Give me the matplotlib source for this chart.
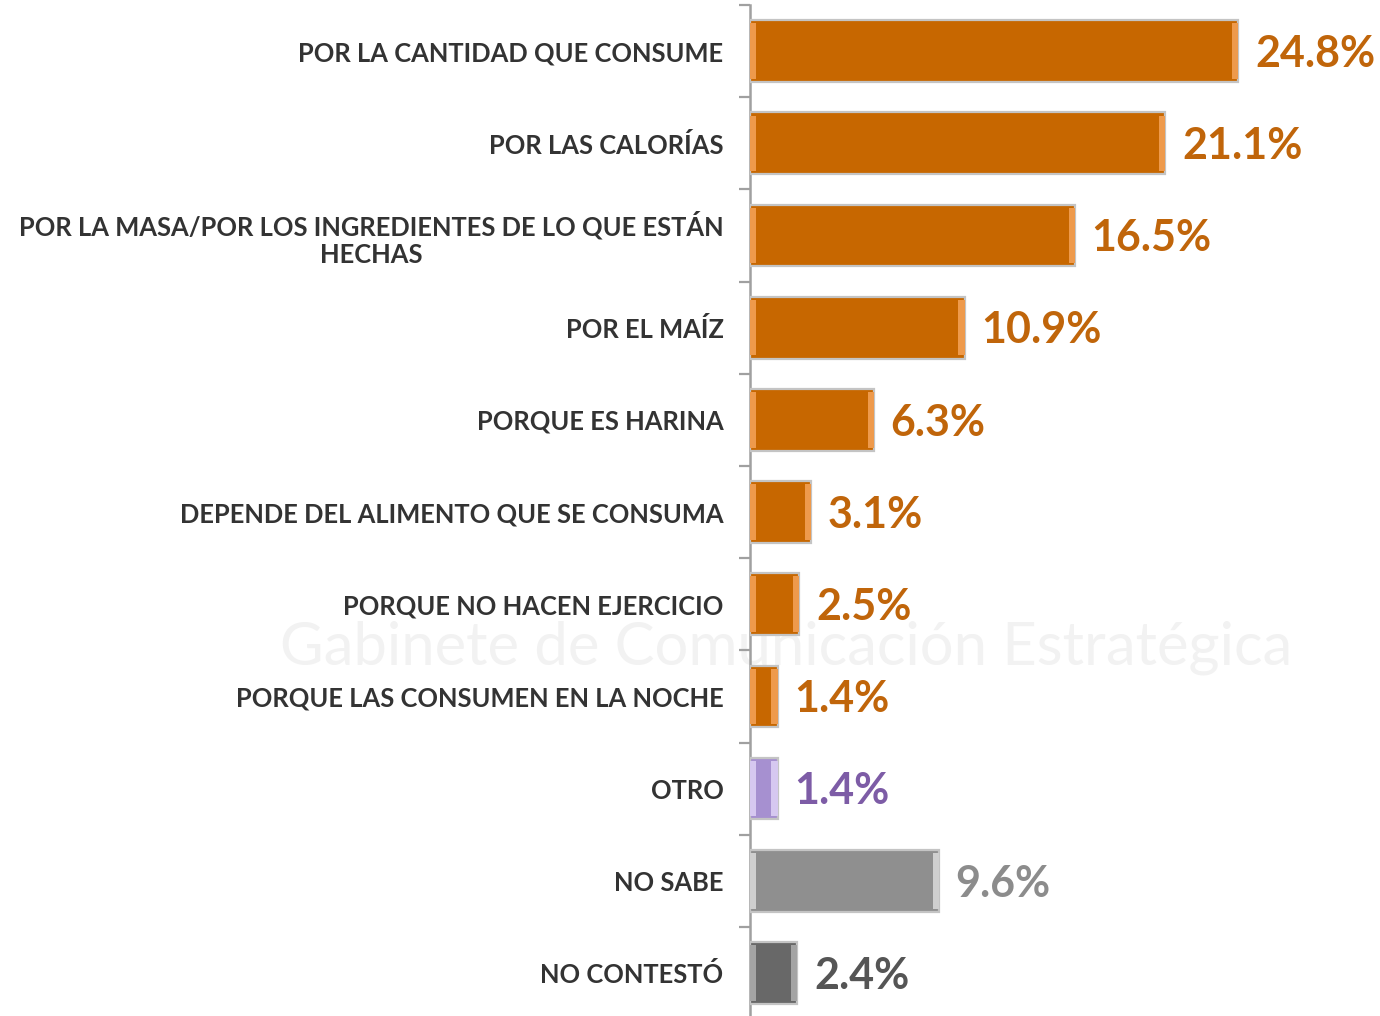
import matplotlib
matplotlib.use("Agg")
import matplotlib.pyplot as plt

categories = [
    "POR LA CANTIDAD QUE CONSUME",
    "POR LAS CALORÍAS",
    "POR LA MASA/POR LOS INGREDIENTES DE LO QUE ESTÁN\nHECHAS",
    "POR EL MAÍZ",
    "PORQUE ES HARINA",
    "DEPENDE DEL ALIMENTO QUE SE CONSUMA",
    "PORQUE NO HACEN EJERCICIO",
    "PORQUE LAS CONSUMEN EN LA NOCHE",
    "OTRO",
    "NO SABE",
    "NO CONTESTÓ",
]
values = [24.8, 21.1, 16.5, 10.9, 6.3, 3.1, 2.5, 1.4, 1.4, 9.6, 2.4]
value_labels = ["24.8%", "21.1%", "16.5%", "10.9%", "6.3%", "3.1%", "2.5%", "1.4%", "1.4%", "9.6%", "2.4%"]

orange = ("#C76700", "#EE9A4C", "#C0650A")
purple = ("#A690D0", "#D6C8F0", "#7D5CA6")
gray = ("#8F8F8F", "#CFCFCF", "#8C8C8C")
dgray = ("#686868", "#A4A4A4", "#555555")
styles = [orange] * 8 + [purple, gray, dgray]

plt.rcParams["font.family"] = ["Lato", "DejaVu Sans"]

fig = plt.figure(figsize=(13.8, 10.16), dpi=100)

# faint watermark, behind the axes
fig.text(0.57, 0.362, "Gabinete de Comunicación Estratégica", fontsize=43,
         color="#F2F2F2", ha="center", va="center", zorder=-5)

ax = fig.add_axes([750 / 1380, -0.003, 1 - 750 / 1380, 0.998])
ax.patch.set_alpha(0)

n = len(categories)
ypos = list(range(n))
h = 0.67
for i, (v, st) in enumerate(zip(values, styles)):
    ax.barh(i, v, height=h, color=st[0], edgecolor="#C4C4C4", linewidth=1.6, zorder=3)
    w = min(0.32, v * 0.25)
    ax.barh(i, w, left=0, height=h * 0.9, color=st[1], linewidth=0, zorder=4)
    ax.barh(i, w, left=v - w, height=h * 0.9, color=st[1], linewidth=0, zorder=4)
    ax.annotate(value_labels[i], (v, i), xytext=(12, -2), textcoords="offset points",
                ha="left", va="center", fontsize=31, fontweight="bold", color=st[2])

ax.set_xlim(0, 32.0)
ax.set_ylim(n - 0.5, -0.5)

ax.set_yticks([i - 0.5 for i in range(n + 1)])
ax.set_yticklabels([])
ax.tick_params(axis="y", which="major", length=8, width=1.6, color="#A0A0A0")
ax.set_yticks(ypos, minor=True)
ax.set_yticklabels(categories, minor=True)
ax.tick_params(axis="y", which="minor", length=0, pad=19, labelsize=18.4, labelcolor="#333333")
for lab in ax.get_yticklabels(minor=True):
    lab.set_fontweight("bold")
    lab.set_multialignment("center")
    lab.set_linespacing(1.15)

ax.set_xticks([])
for s in ["top", "right", "bottom"]:
    ax.spines[s].set_visible(False)
ax.spines["left"].set_color("#A0A0A0")
ax.spines["left"].set_linewidth(1.8)

fig.savefig("out.png", dpi=100)
